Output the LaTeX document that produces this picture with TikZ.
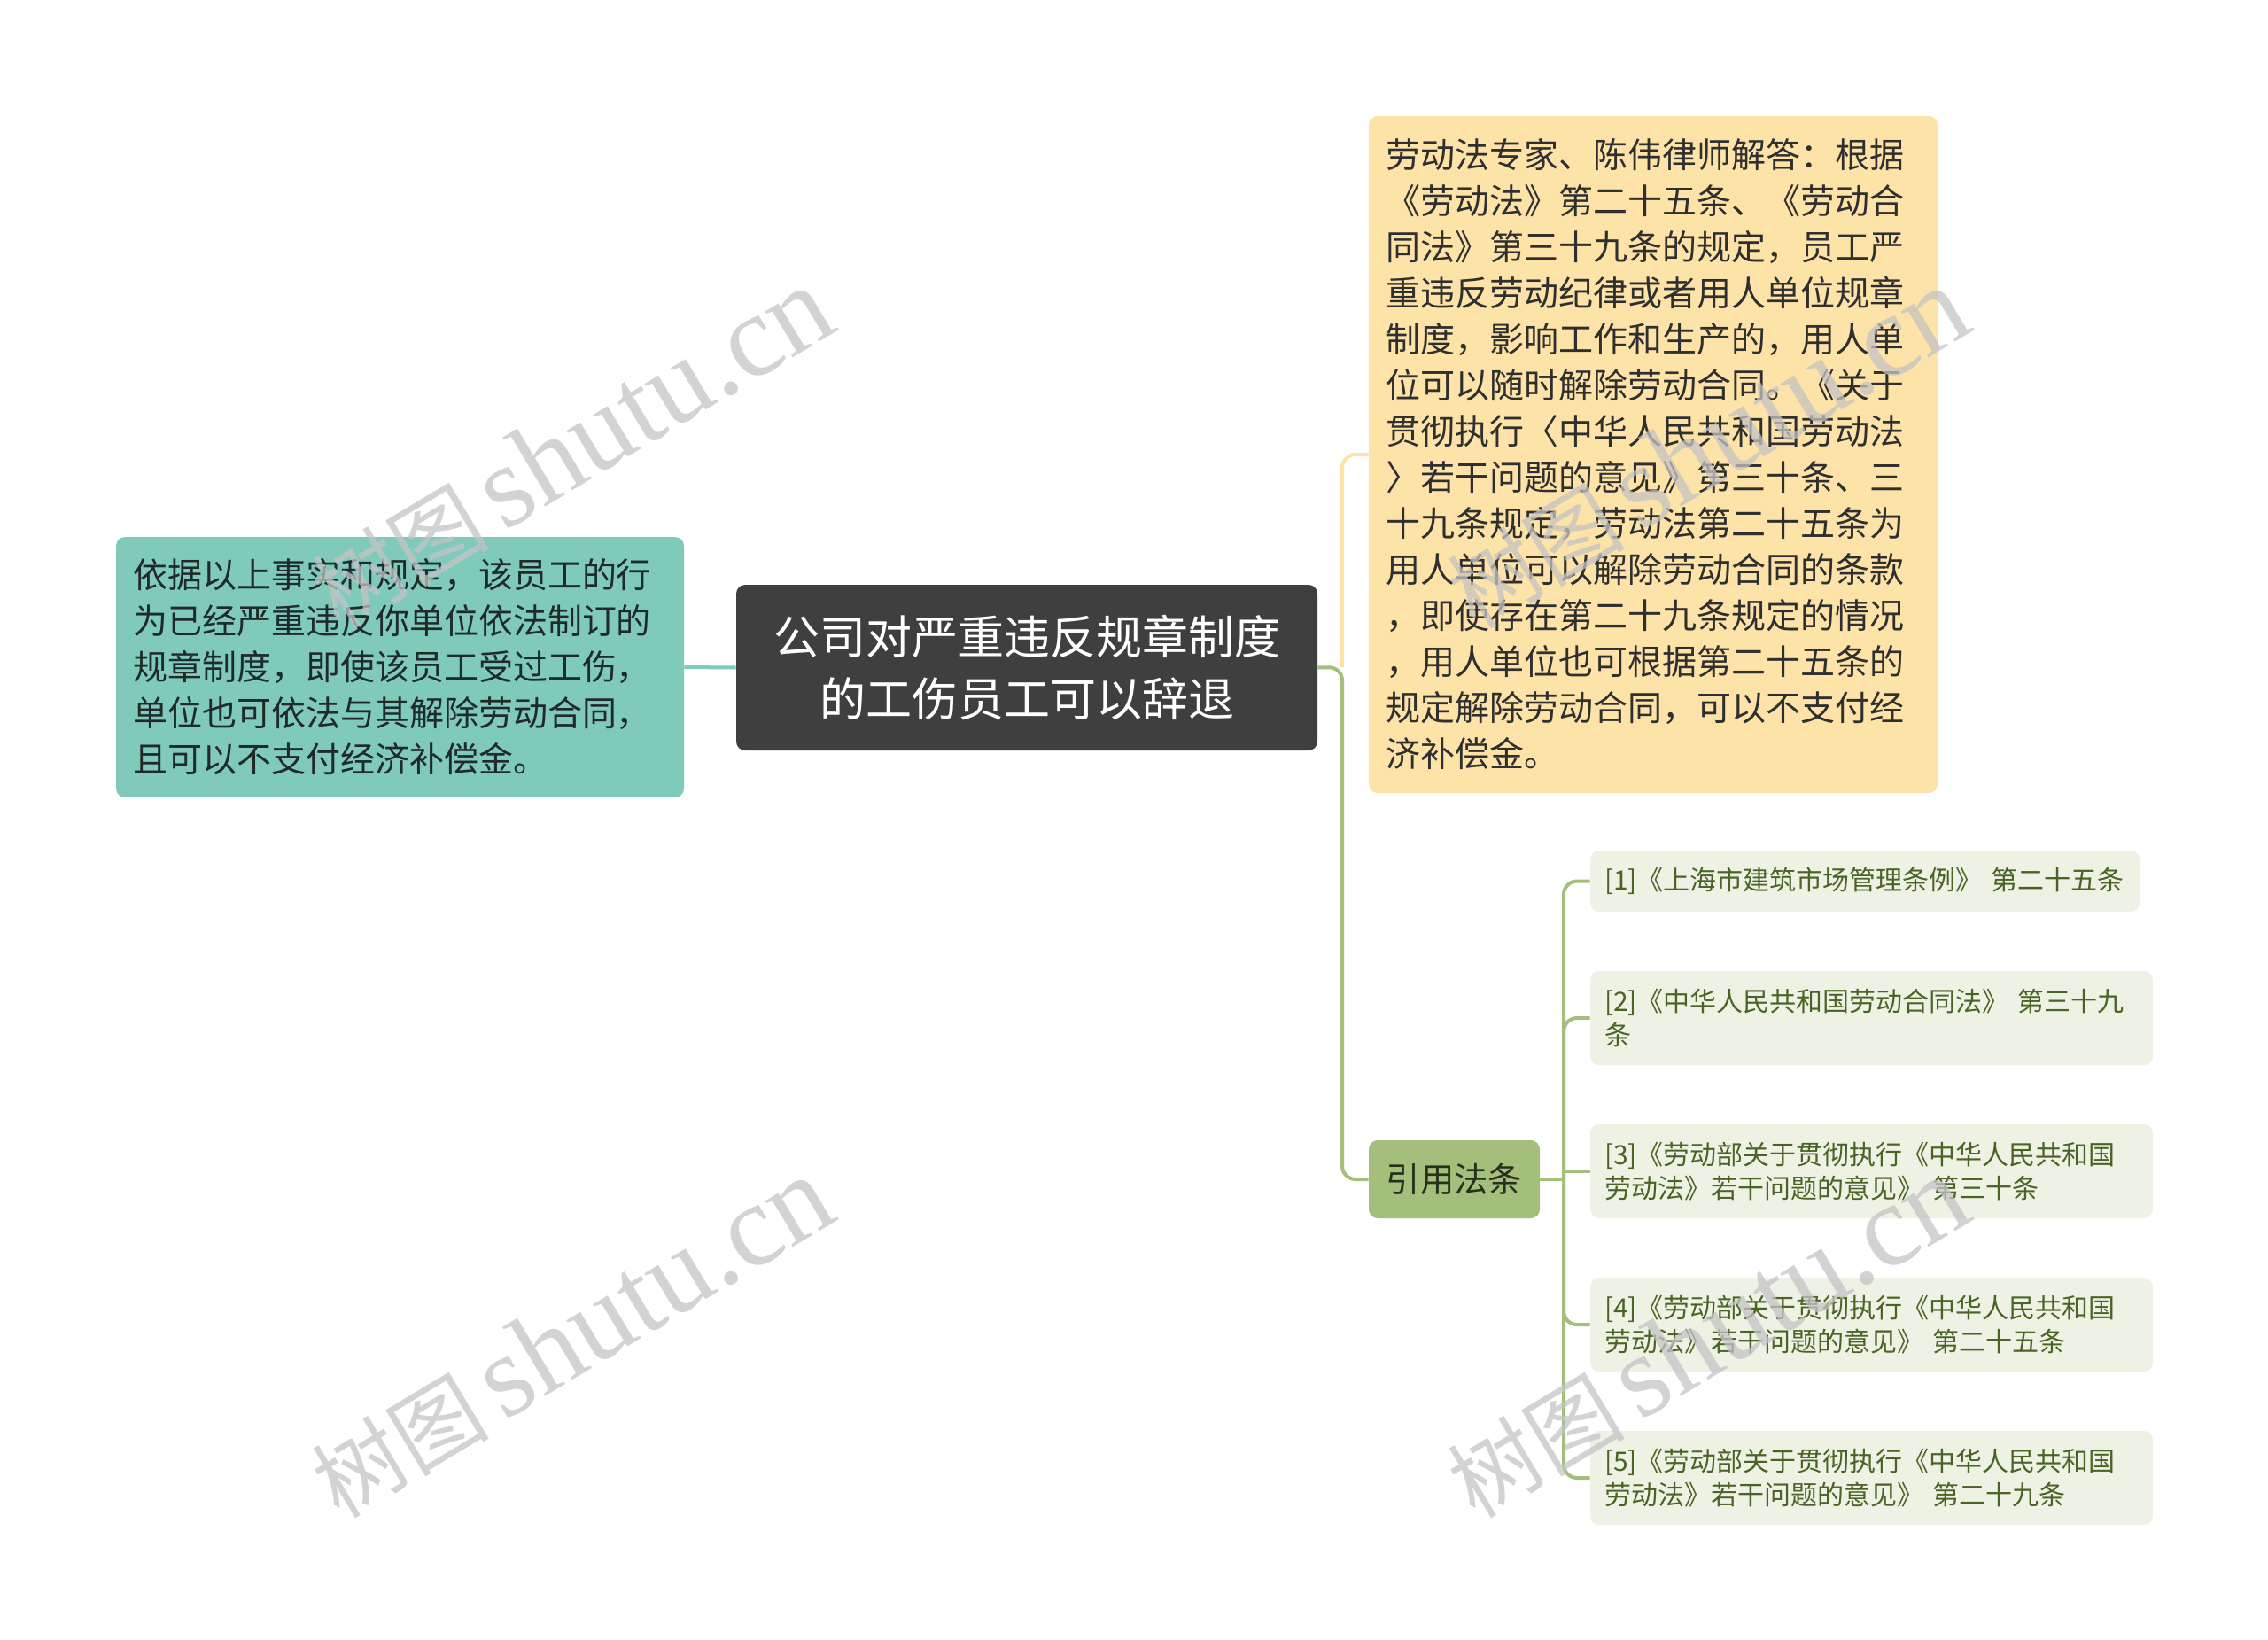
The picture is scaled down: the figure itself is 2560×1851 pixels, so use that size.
\documentclass[tikz,border=0pt]{standalone}
\usepackage{fontspec}
\setmainfont{Noto Sans CJK SC}
\newfontfamily\wmserif{Liberation Serif}
\newfontfamily\wmcjk{Noto Sans CJK SC}
\definecolor{cdark}{HTML}{3F3F3F}
\definecolor{cteal}{HTML}{80CABC}
\definecolor{cyel}{HTML}{FDE3A8}
\definecolor{cgreen}{HTML}{A4BF7C}
\definecolor{cleaf}{HTML}{EEF2E4}
\definecolor{cleaftext}{HTML}{4A6426}
\definecolor{ctealtext}{HTML}{1E2B28}
\definecolor{cyeltext}{HTML}{2F2F2F}
\definecolor{cgreentext}{HTML}{27301C}
\definecolor{cwm}{HTML}{C4C4C4}
\begin{document}
\begin{tikzpicture}[x=0.5pt,y=-0.5pt,
  box/.style={rectangle,rounded corners=5pt,inner sep=0pt,anchor=center},
  rootbox/.style={box,fill=cdark,text=white,align=center,
     font=\fontsize{26pt}{35pt}\selectfont},
  tealbox/.style={box,fill=cteal,text=ctealtext,align=left,
     font=\fontsize{19.5pt}{26pt}\selectfont},
  yelbox/.style={box,fill=cyel,text=cyeltext,align=left,
     font=\fontsize{19.5pt}{26pt}\selectfont},
  greenbox/.style={box,fill=cgreen,text=cgreentext,align=center,
     font=\fontsize{19.2pt}{24pt}\selectfont},
  leafbox/.style={box,fill=cleaf,text=cleaftext,align=left,
     font=\fontsize{15pt}{18.8pt}\selectfont},
  conn/.style={line width=2pt,rounded corners=7.5pt},
  wm/.style={text=cwm,opacity=0.75,rotate=31,anchor=center,inner sep=0pt}
]
\useasboundingbox (0,0) rectangle (2560,1851);

% nodes
\node[rootbox,minimum width=328pt,minimum height=93.5pt] (root) at (1159,753.5)
  {公司对严重违反规章制度\\的工伤员工可以辞退};

\node[tealbox,minimum width=320.5pt,minimum height=147pt,text width=301.5pt] (left) at (451.5,753)
  {依据以上事实和规定，该员工的行\\为已经严重违反你单位依法制订的\\规章制度，即使该员工受过工伤，\\单位也可依法与其解除劳动合同，\\且可以不支付经济补偿金。};

\node[yelbox,minimum width=321pt,minimum height=382pt,text width=302pt] (yel) at (1866,513)
  {劳动法专家、陈伟律师解答：根据\\《劳动法》第二十五条、《劳动合\\同法》第三十九条的规定，员工严\\重违反劳动纪律或者用人单位规章\\制度，影响工作和生产的，用人单\\位可以随时解除劳动合同。《关于\\贯彻执行〈中华人民共和国劳动法\\〉若干问题的意见》第三十条、三\\十九条规定，劳动法第二十五条为\\用人单位可以解除劳动合同的条款\\，即使存在第二十九条规定的情况\\，用人单位也可根据第二十五条的\\规定解除劳动合同，可以不支付经\\济补偿金。};

\node[greenbox,minimum width=96.5pt,minimum height=44pt] (cite) at (1641.5,1331) {引用法条};

\node[leafbox,minimum width=310pt,minimum height=34.5pt,text width=294pt] (l1) at (2105,994.5)
  {[1]《上海市建筑市场管理条例》 第二十五条};
\node[leafbox,minimum width=317.5pt,minimum height=53pt,text width=301.5pt] (l2) at (2112.5,1149)
  {[2]《中华人民共和国劳动合同法》 第三十九\\条};
\node[leafbox,minimum width=317.5pt,minimum height=53pt,text width=301.5pt] (l3) at (2112.5,1322)
  {[3]《劳动部关于贯彻执行《中华人民共和国\\劳动法》若干问题的意见》 第三十条};
\node[leafbox,minimum width=317.5pt,minimum height=53pt,text width=301.5pt] (l4) at (2112.5,1495)
  {[4]《劳动部关于贯彻执行《中华人民共和国\\劳动法》若干问题的意见》 第二十五条};
\node[leafbox,minimum width=317.5pt,minimum height=53pt,text width=301.5pt] (l5) at (2112.5,1668)
  {[5]《劳动部关于贯彻执行《中华人民共和国\\劳动法》若干问题的意见》 第二十九条};

% connectors
\coordinate (j) at (1515,753);
\coordinate (bus) at (1765,1331);
\draw[conn,cteal] (left.east) -- (root.west);
\draw[conn,cyel] (j) |- (yel.west);
\draw[conn,cgreen] (root.east) -- (j) |- (cite.west);
\draw[conn,cgreen] (cite.east) -- (bus);
\draw[conn,cgreen] (bus) |- (l1.west);
\draw[conn,cgreen] (bus) |- (l2.west);
\draw[conn,cgreen] (bus |- l3.west) -- (l3.west);
\draw[conn,cgreen] (bus) |- (l4.west);
\draw[conn,cgreen] (bus) |- (l5.west);

% watermarks
\node[wm] (wm1) at (645,506) {\fontsize{50pt}{60pt}\wmcjk 树图\,\fontsize{66pt}{70pt}\wmserif shutu.cn};
\node[wm] (wm2) at (1927,506) {\fontsize{50pt}{60pt}\wmcjk 树图\,\fontsize{66pt}{70pt}\wmserif shutu.cn};
\node[wm] (wm3) at (645,1510) {\fontsize{50pt}{60pt}\wmcjk 树图\,\fontsize{66pt}{70pt}\wmserif shutu.cn};
\node[wm] (wm4) at (1927,1510) {\fontsize{50pt}{60pt}\wmcjk 树图\,\fontsize{66pt}{70pt}\wmserif shutu.cn};
\end{tikzpicture}
\end{document}
